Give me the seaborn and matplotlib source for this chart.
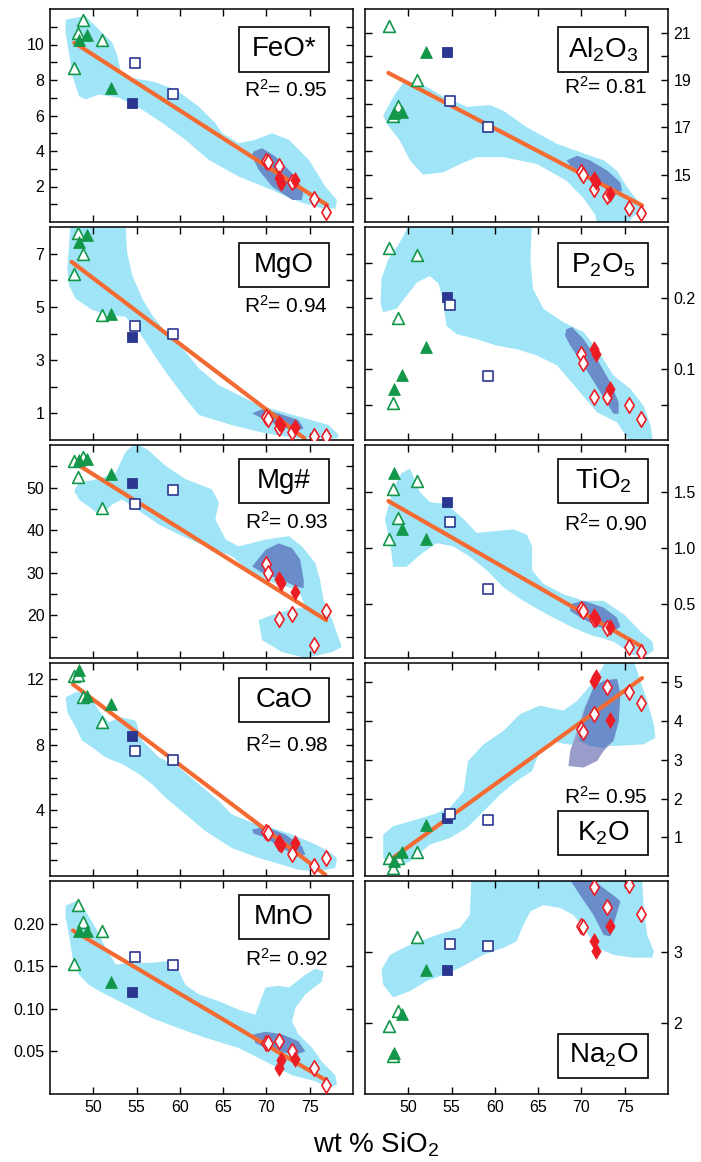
"""
Harker diagrams: major oxides vs wt % SiO2 (10 panels, 5 x 2)
"""
import matplotlib
matplotlib.use('Agg')
import matplotlib.pyplot as plt
from matplotlib.patches import Rectangle
import seaborn as sns

# ---------------------------------------------------------------- samples
# one entry per sample: SiO2 and its symbol group
sio2 = [47.8, 48.2, 48.8, 51.0, 48.3, 49.3, 52.0, 54.5, 54.8, 59.2,
        70.0, 70.2, 71.5, 72.9, 75.5, 76.9, 71.4, 71.7, 73.3]
group = (['tri_open'] * 4 + ['tri_fill'] * 3 + ['sq_fill'] + ['sq_open'] * 2
         + ['dia_open'] * 6 + ['dia_fill'] * 3)

feo = [8.7, 10.66, 11.4, 10.25, 10.25, 10.56, 7.55, 6.7, 8.96, 7.2,
       3.45, 3.4, 3.13, 2.28, 1.3, 0.55, 2.47, 2.22, 2.37]
al2o3 = [21.3, 17.5, 17.9, 19.0, 17.6, 17.65, 20.2, 20.2, 18.1, 17.0,
         15.1, 15.0, 14.4, 14.1, 13.6, 13.36, 14.8, 14.67, 14.2]
mgo = [6.25, 7.79, 7.0, 4.71, 7.44, 7.69, 4.75, 3.88, 4.28, 4.0,
       0.875, 0.8, 0.44, 0.31, 0.15, 0.15, 0.63, 0.56, 0.5]
p2o5 = [0.271, 0.052, 0.172, 0.261, 0.072, 0.091, 0.131, 0.201, 0.19, 0.09,
        0.121, 0.109, 0.06, 0.06, 0.05, 0.03, 0.128, 0.121, 0.072]
mg_num = [56.3, 52.4, 57.1, 45.1, 56.5, 56.7, 53.1, 51.0, 46.1, 49.4,
          32.1, 29.9, 19.1, 20.3, 13.1, 21.0, 28.5, 27.6, 25.4]
tio2 = [1.08, 1.53, 1.27, 1.6, 1.67, 1.17, 1.08, 1.41, 1.23, 0.636,
        0.455, 0.44, 0.37, 0.29, 0.115, 0.076, 0.394, 0.364, 0.294]
cao = [12.2, 12.25, 10.9, 9.4, 12.55, 11.0, 10.5, 8.56, 7.64, 7.1,
       2.67, 2.6, 2.0, 1.37, 0.59, 1.1, 2.08, 1.92, 2.02]
k2o = [0.46, 0.2, 0.46, 0.62, 0.38, 0.62, 1.31, 1.5, 1.6, 1.45,
       3.79, 3.72, 4.18, 4.87, 4.74, 4.48, 5.04, 5.13, 4.02]
mno = [0.152, 0.2216, 0.202, 0.191, 0.191, 0.191, 0.1316, 0.12, 0.161, 0.151,
       0.06, 0.06, 0.062, 0.05, 0.03, 0.0106, 0.03, 0.04, 0.041]
na2o = [1.96, 1.54, 2.17, 3.21, 1.58, 2.12, 2.75, 2.74, 3.11, 3.08,
        3.37, 3.35, 3.92, 3.64, 3.95, 3.53, 3.15, 3.02, 3.36]

# ------------------------------------------------- regression lines (ends)
feo_line = ([47.8, 77.0], [10.1, 0.96])
al2o3_line = ([47.7, 77.0], [19.3, 13.7])
mgo_line = ([47.5, 74.4], [6.69, 0.06])
mg_num_line = ([47.8, 76.9], [55.9, 18.9])
tio2_line = ([47.7, 77.0], [1.42, 0.12])
cao_line = ([47.65, 76.8], [11.7, 0.08])
k2o_line = ([47.7, 77.0], [0.38, 5.11])
mno_line = ([47.65, 76.8], [0.192, 0.0165])

# --------------------------------------------- compositional fields (outlines)
feo_field_x = [46.8, 49.1, 50.65, 52.2, 52.8, 53.15, 54.5, 56.8, 59.5, 62.2, 64.1, 64.9,
               66.8, 68.7, 70.65, 72.6, 74.9, 76.8, 78.15, 77.96, 76.4, 73.7, 70.65, 66.8,
               63.35, 60.65, 58.0, 55.65, 53.0, 50.65, 49.1, 48.35, 47.6, 47.2, 46.8]
feo_field_y = [11.4, 11.6, 10.85, 10.1, 9.34, 8.5, 8.1, 7.93, 7.46, 6.5, 5.57, 5.0,
               4.44, 4.63, 5.0, 4.63, 3.5, 2.0, 1.24, 0.77, 0.77, 1.15, 1.8, 2.56,
               3.5, 4.63, 5.57, 6.33, 7.0, 7.18, 6.9, 7.1, 8.2, 9.5, 10.66]
feo_core_x = [68.5, 69.5, 71.0, 72.96, 74.3, 74.1, 73.0, 70.65, 69.1, 68.35]
feo_core_y = [3.97, 4.16, 3.7, 2.75, 1.8, 1.24, 1.24, 2.0, 2.94, 3.7]

al2o3_field_x = [47.1, 48.3, 49.4, 51.0, 54.05, 56.75, 59.45, 61.0, 63.7, 67.2, 70.25, 72.6,
                 74.1, 75.3, 76.8, 77.2, 76.0, 75.3, 71.8, 71.6, 70.25, 68.3, 64.85, 61.0,
                 57.9, 56.0, 54.05, 51.7, 50.2, 49.0, 47.5]
al2o3_field_y = [17.5, 18.3, 18.87, 18.94, 18.3, 17.87, 17.94, 17.7, 17.0, 16.3, 15.9, 15.6,
                 15.17, 14.46, 13.75, 13.46, 13.25, 12.9, 12.9, 13.3, 14.0, 14.74, 15.45, 15.74,
                 15.74, 15.45, 15.1, 15.0, 15.6, 16.45, 17.16]
al2o3_core_x = [68.3, 69.5, 71.0, 73.0, 74.5, 74.7, 73.7, 71.8, 70.25, 68.7]
al2o3_core_y = [15.6, 15.8, 15.6, 15.17, 14.67, 14.3, 14.24, 14.6, 15.0, 15.4]

mgo_field_x = [47.4, 53.7, 53.9, 54.5, 55.65, 56.8, 58.35, 60.65, 62.2, 64.5, 66.8, 69.1,
               71.8, 74.5, 77.2, 78.35, 78.15, 73.7, 69.9, 66.0, 62.2, 60.65, 58.35, 56.8,
               55.3, 53.7, 51.8, 49.9, 47.96, 47.2, 47.0, 47.2]
mgo_field_y = [8.3, 8.3, 7.06, 6.19, 5.31, 4.69, 4.06, 3.31, 2.69, 2.06, 1.69, 1.31,
               1.06, 0.81, 0.56, 0.19, 0.06, 0.06, 0.25, 0.56, 0.94, 1.56, 2.56, 3.31,
               4.06, 4.63, 4.69, 4.88, 5.31, 5.81, 6.44, 7.31]
mgo_core_x = [68.35, 69.5, 71.4, 73.7, 74.3, 73.35, 71.4, 69.5]
mgo_core_y = [1.0, 1.15, 1.0, 0.75, 0.44, 0.31, 0.56, 0.81]

p2o5_field_x = [46.8, 46.9, 47.7, 49.0, 50.4, 64.3, 64.1, 64.4, 65.6, 67.9, 70.25, 71.8,
                73.7, 75.65, 77.2, 78.0, 78.35, 76.0, 74.1, 71.8, 69.5, 67.2, 64.85, 62.5,
                60.2, 57.9, 55.6, 54.4, 54.05, 53.5, 52.5, 51.0, 49.8, 48.65, 47.1]
p2o5_field_y = [0.192, 0.227, 0.255, 0.278, 0.31, 0.31, 0.255, 0.213, 0.185, 0.166, 0.152, 0.128,
                0.091, 0.072, 0.048, 0.02, -0.01, -0.01, 0.025, 0.039, 0.072, 0.105, 0.119, 0.128,
                0.133, 0.142, 0.149, 0.161, 0.194, 0.22, 0.231, 0.222, 0.203, 0.185, 0.18]
p2o5_core_x = [68.25, 68.9, 70.25, 71.8, 73.35, 74.3, 74.3, 73.7, 72.2, 70.25, 68.7, 68.1]
p2o5_core_y = [0.156, 0.159, 0.142, 0.114, 0.081, 0.053, 0.037, 0.037, 0.067, 0.105, 0.133, 0.147]

mg_num_field_x = [47.8, 48.35, 50.65, 52.6, 53.7, 54.9, 56.4, 58.35, 60.65, 63.7, 64.5, 64.1,
                  65.3, 66.8, 69.9, 72.6, 74.1, 75.65, 76.2, 76.6, 77.6, 78.7, 77.6, 74.5,
                  71.8, 69.5, 69.1, 70.65, 72.6, 74.5, 73.7, 72.2, 69.9, 68.35, 66.0, 62.96,
                  60.3, 57.6, 55.3, 53.35, 52.2, 50.85, 49.9, 48.35]
mg_num_field_y = [49.2, 51.2, 52.0, 53.5, 58.3, 60.5, 58.7, 55.1, 52.0, 49.6, 46.5, 42.5,
                  37.8, 36.2, 37.8, 38.6, 36.2, 32.3, 28.3, 23.6, 18.9, 12.6, 11.4, 10.0,
                  11.4, 14.2, 18.9, 20.1, 21.3, 22.0, 26.0, 26.8, 28.3, 29.9, 33.9, 36.2,
                  38.6, 41.3, 44.5, 47.2, 46.1, 43.3, 44.9, 47.2]
mg_num_core_x = [68.35, 69.9, 71.4, 72.96, 73.9, 74.3, 74.3, 73.35, 71.4, 69.9]
mg_num_core_y = [31.5, 35.4, 36.9, 35.8, 33.1, 28.3, 26.4, 26.8, 28.7, 29.5]

tio2_field_x = [47.3, 48.26, 49.2, 50.2, 51.35, 52.5, 54.4, 56.4, 57.9, 59.8, 62.15, 63.7,
                64.3, 64.3, 65.6, 67.9, 70.25, 72.57, 74.9, 76.8, 78.2, 78.36, 77.6, 76.0,
                73.7, 71.0, 68.7, 66.0, 63.3, 61.0, 59.07, 57.1, 55.2, 53.3, 51.35, 49.8,
                48.26, 47.9]
tio2_field_y = [1.258, 1.53, 1.667, 1.71, 1.5, 1.41, 1.394, 1.258, 1.136, 1.15, 1.167, 1.12,
                1.015, 0.803, 0.682, 0.59, 0.53, 0.53, 0.41, 0.258, 0.167, 0.09, 0.045, 0.045,
                0.167, 0.227, 0.303, 0.41, 0.53, 0.65, 0.803, 0.924, 1.015, 1.045, 0.94, 0.833,
                0.833, 1.045]
tio2_core_x = [68.7, 70.25, 72.57, 74.1, 74.5, 73.7, 71.8, 69.9, 68.7]
tio2_core_y = [0.5, 0.53, 0.47, 0.38, 0.3, 0.258, 0.303, 0.38, 0.44]

cao_field_x = [46.8, 47.96, 49.3, 50.65, 51.8, 53.15, 54.9, 55.65, 57.6, 59.9, 62.2, 64.5,
               66.0, 68.35, 70.65, 72.96, 75.3, 77.2, 78.15, 77.96, 76.0, 73.7, 71.8, 69.1,
               66.0, 62.96, 60.65, 58.35, 56.8, 55.3, 53.35, 51.4, 49.9, 48.7, 47.96, 47.0]
cao_field_y = [10.9, 11.22, 11.22, 10.1, 9.38, 9.69, 9.48, 8.26, 7.24, 6.62, 5.6, 4.58,
               3.76, 3.25, 2.94, 2.53, 2.02, 1.51, 1.1, 0.49, 0.28, 0.38, 0.69, 1.1,
               1.71, 2.74, 3.76, 4.78, 5.6, 6.21, 6.83, 7.24, 7.85, 8.26, 9.08, 10.0]
cao_core_x = [68.35, 69.9, 72.2, 74.1, 74.5, 73.5, 71.8, 69.9, 68.5]
cao_core_y = [2.84, 3.0, 2.53, 1.82, 1.3, 1.2, 1.7, 2.33, 2.6]

k2o_field_x = [47.1, 48.26, 50.2, 52.9, 54.8, 56.4, 56.9, 58.7, 61.0, 62.9, 65.2, 67.9,
               69.5, 71.8, 72.96, 76.0, 76.8, 77.6, 78.36, 78.55, 77.2, 74.1, 71.0, 68.3,
               66.4, 65.2, 64.3, 62.5, 60.6, 58.7, 56.75, 54.8, 52.5, 50.2, 48.65, 47.1]
k2o_field_y = [1.07, 1.29, 1.41, 1.59, 1.76, 2.19, 2.97, 3.4, 3.75, 4.18, 4.4, 4.27,
               4.52, 5.13, 5.6, 5.6, 5.04, 4.52, 3.92, 3.57, 3.4, 3.36, 3.36, 3.4,
               3.49, 3.23, 2.71, 2.45, 2.1, 1.67, 1.24, 0.98, 0.81, 0.38, 0.2, 0.46]
k2o_core_x = [71.4, 72.57, 74.1, 74.5, 74.3, 73.7, 72.57, 71.0, 69.7, 69.9, 70.45]
k2o_core_y = [4.87, 5.04, 5.09, 4.7, 4.0, 3.49, 3.3, 3.36, 3.49, 3.83, 4.35]
k2o_core2_x = [71.4, 72.57, 74.1, 74.5, 74.3, 73.7, 72.57, 71.8, 70.25, 68.5, 68.7, 69.5, 70.25]
k2o_core2_y = [4.87, 5.04, 5.09, 4.7, 4.0, 3.49, 3.23, 2.97, 2.8, 2.84, 3.23, 3.75, 4.27]

mno_field_x = [46.8, 48.15, 49.1, 50.27, 51.4, 52.6, 54.5, 56.8, 58.7, 59.9, 60.65, 62.2,
               64.5, 66.8, 68.7, 69.9, 71.4, 72.6, 74.5, 75.65, 76.6, 76.4, 74.5, 73.35,
               72.96, 73.7, 75.3, 76.4, 77.96, 78.15, 77.2, 75.65, 72.96, 69.9, 66.8, 62.96,
               59.9, 56.8, 54.5, 52.2, 50.65, 49.5, 48.35, 47.6, 47.2, 46.8]
mno_field_y = [0.221, 0.227, 0.215, 0.195, 0.172, 0.152, 0.154, 0.154, 0.156, 0.144, 0.128, 0.117,
               0.109, 0.099, 0.093, 0.125, 0.127, 0.125, 0.14, 0.147, 0.144, 0.132, 0.117, 0.101,
               0.085, 0.07, 0.054, 0.038, 0.022, 0.011, 0.007, 0.015, 0.022, 0.038, 0.054, 0.066,
               0.077, 0.089, 0.101, 0.113, 0.121, 0.128, 0.14, 0.16, 0.187, 0.207]
mno_core_x = [68.5, 69.9, 71.8, 73.7, 74.5, 73.35, 71.4, 69.9, 68.7]
mno_core_y = [0.07, 0.073, 0.07, 0.062, 0.05, 0.046, 0.05, 0.054, 0.06]

na2o_field_x = [46.9, 47.9, 49.8, 53.3, 55.98, 57.1, 57.3, 77.0, 77.2, 77.6, 78.36, 78.2,
                76.0, 73.7, 71.8, 70.25, 69.1, 67.55, 65.6, 64.1, 63.3, 62.5, 61.0, 58.7,
                55.98, 54.05, 52.1, 50.2, 48.26, 47.1]
na2o_field_y = [2.75, 2.96, 3.08, 3.24, 3.34, 3.52, 4.05, 4.05, 3.62, 3.24, 3.01, 2.92,
                2.92, 2.96, 3.06, 3.34, 3.52, 3.62, 3.66, 3.57, 3.38, 3.15, 3.06, 2.96,
                2.78, 2.68, 2.59, 2.45, 2.36, 2.54]
na2o_core_x = [68.5, 71.0, 72.57, 74.1, 74.5, 73.7, 73.35, 72.57, 71.4, 69.9]
na2o_core_y = [4.05, 4.05, 3.9, 3.76, 3.71, 3.38, 3.22, 3.24, 3.52, 3.79]

# ------------------------------------------------------------------ styles
GREEN = '#13974a'
NAVY = '#2b3690'
RED = '#ec1c24'
ORANGE = '#f36b32'
FIELD = '#9fe5f7'
CORE = '#6a8dca'
CORE2 = '#9a9dcc'

MARKERS = {
    'tri_open': dict(marker='^', s=72, color='white', edgecolor=GREEN, linewidth=1.2),
    'tri_fill': dict(marker='^', s=72, color=GREEN, edgecolor=GREEN, linewidth=0.6),
    'sq_open': dict(marker='s', s=58, color='white', edgecolor=NAVY, linewidth=1.2),
    'sq_fill': dict(marker='s', s=58, color=NAVY, edgecolor=NAVY, linewidth=0.6),
    'dia_open': dict(marker='d', s=62, color='white', edgecolor=RED, linewidth=1.2),
    'dia_fill': dict(marker='d', s=62, color=RED, edgecolor=RED, linewidth=0.6),
}

sns.set_theme(style='ticks')
plt.rcParams['font.family'] = ['Liberation Sans', 'DejaVu Sans']
plt.rcParams['mathtext.fontset'] = 'custom'
plt.rcParams['mathtext.rm'] = 'Liberation Sans'
plt.rcParams['mathtext.it'] = 'Liberation Sans:italic'
plt.rcParams['mathtext.default'] = 'regular'
plt.rcParams['text.color'] = 'black'
plt.rcParams['axes.edgecolor'] = 'black'
plt.rcParams['xtick.color'] = 'black'
plt.rcParams['ytick.color'] = 'black'

panels = [
    dict(label='FeO*', y=feo, ylim=(0, 12), major=[2, 4, 6, 8, 10],
         minor=[1, 3, 5, 7, 9, 11], fmt='{:g}', r2='0.95', line=feo_line,
         field=(feo_field_x, feo_field_y), core=(feo_core_x, feo_core_y),
         box_y=0.81, r2_y=0.62),
    dict(label='Al$_2$O$_3$', y=al2o3, ylim=(13, 22), major=[15, 17, 19, 21],
         minor=[14, 16, 18, 20], fmt='{:g}', r2='0.81', line=al2o3_line,
         field=(al2o3_field_x, al2o3_field_y), core=(al2o3_core_x, al2o3_core_y),
         box_y=0.81, r2_y=0.635),
    dict(label='MgO', y=mgo, ylim=(0, 8), major=[1, 3, 5, 7], minor=[2, 4, 6],
         fmt='{:g}', r2='0.94', line=mgo_line,
         field=(mgo_field_x, mgo_field_y), core=(mgo_core_x, mgo_core_y),
         box_y=0.82, r2_y=0.63),
    dict(label='P$_2$O$_5$', y=p2o5, ylim=(0, 0.3), major=[0.1, 0.2],
         minor=[0.05, 0.15, 0.25], fmt='{:.1f}', r2=None, line=None,
         field=(p2o5_field_x, p2o5_field_y), core=(p2o5_core_x, p2o5_core_y),
         box_y=0.82, r2_y=None),
    dict(label='Mg#', y=mg_num, ylim=(10, 60), major=[20, 30, 40, 50],
         minor=[15, 25, 35, 45, 55], fmt='{:g}', r2='0.93', line=mg_num_line,
         field=(mg_num_field_x, mg_num_field_y), core=(mg_num_core_x, mg_num_core_y),
         box_y=0.83, r2_y=0.64),
    dict(label='TiO$_2$', y=tio2, ylim=(0.02, 1.92), major=[0.5, 1.0, 1.5],
         minor=[], fmt='{:.1f}', r2='0.90', line=tio2_line,
         field=(tio2_field_x, tio2_field_y), core=(tio2_core_x, tio2_core_y),
         box_y=0.83, r2_y=0.63),
    dict(label='CaO', y=cao, ylim=(0, 13), major=[4, 8, 12],
         minor=[1, 2, 3, 5, 6, 7, 9, 10, 11], fmt='{:g}', r2='0.98', line=cao_line,
         field=(cao_field_x, cao_field_y), core=(cao_core_x, cao_core_y),
         box_y=0.825, r2_y=0.615),
    dict(label='K$_2$O', y=k2o, ylim=(0, 5.5), major=[1, 2, 3, 4, 5], minor=[],
         fmt='{:g}', r2='0.95', line=k2o_line,
         field=(k2o_field_x, k2o_field_y), core=(k2o_core_x, k2o_core_y),
         core2=(k2o_core2_x, k2o_core2_y), box_y=0.20, r2_y=0.37),
    dict(label='MnO', y=mno, ylim=(0, 0.25), major=[0.05, 0.10, 0.15, 0.20],
         minor=[], fmt='{:.2f}', r2='0.92', line=mno_line,
         field=(mno_field_x, mno_field_y), core=(mno_core_x, mno_core_y),
         box_y=0.83, r2_y=0.635),
    dict(label='Na$_2$O', y=na2o, ylim=(1, 4), major=[2, 3], minor=[],
         fmt='{:g}', r2=None, line=None,
         field=(na2o_field_x, na2o_field_y), core=(na2o_core_x, na2o_core_y),
         box_y=0.18, r2_y=None),
]

W, H = 701, 1162
fig = plt.figure(figsize=(W / 100, H / 100), dpi=100)

for i, p in enumerate(panels):
    row, col = divmod(i, 2)
    left = 50 if col == 0 else 365
    top = 9 + 218 * row
    ax = fig.add_axes([left / W, 1 - (top + 213) / H, 303 / W, 213 / H])

    # fields
    ax.fill(p['field'][0], p['field'][1], color=FIELD, lw=0, zorder=0.5)
    if 'core2' in p:
        ax.fill(p['core2'][0], p['core2'][1], color=CORE2, lw=0, zorder=0.6)
    ax.fill(p['core'][0], p['core'][1], color=CORE, lw=0, zorder=0.7)

    # regression line
    if p['line'] is not None:
        sns.lineplot(x=p['line'][0], y=p['line'][1], color=ORANGE, linewidth=3.0,
                     ax=ax, zorder=2)

    # samples
    for g in ['tri_open', 'tri_fill', 'sq_fill', 'sq_open', 'dia_open', 'dia_fill']:
        xs = [x for x, k in zip(sio2, group) if k == g]
        ys = [y for y, k in zip(p['y'], group) if k == g]
        sns.scatterplot(x=xs, y=ys, ax=ax, zorder=3, clip_on=True, **MARKERS[g])

    ax.set_xlim(45, 80)
    ax.set_ylim(*p['ylim'])
    ax.set_xticks([50, 55, 60, 65, 70, 75])
    ax.set_yticks(p['major'])
    ax.set_yticklabels([p['fmt'].format(v) for v in p['major']])
    ax.set_yticks(p['minor'], minor=True)
    ax.tick_params(which='both', direction='in', length=5, width=1.0, color='black',
                   top=True, bottom=True, left=True, right=True,
                   labelsize=11.5, labelcolor='black', pad=4,
                   labelbottom=(row == 4), labelleft=(col == 0), labelright=(col == 1))
    for sp in ax.spines.values():
        sp.set_linewidth(1.1)
        sp.set_color('black')
    ax.set_xlabel('')
    ax.set_ylabel('')

    # label box and R2
    bx = 0.772 if col == 0 else 0.787
    ax.add_patch(Rectangle((bx - 0.1485, p['box_y'] - 0.1035), 0.297, 0.207,
                           transform=ax.transAxes, facecolor='white',
                           edgecolor='black', linewidth=1.2, zorder=5))
    ax.text(bx, p['box_y'], p['label'], transform=ax.transAxes, ha='center',
            va='center', fontsize=20, zorder=6)
    if p['r2'] is not None:
        ax.text(bx + 0.008, p['r2_y'], 'R$^2$= ' + p['r2'], transform=ax.transAxes,
                ha='center', va='center', fontsize=15, zorder=6)

fig.text(0.537, 0.008, 'wt % SiO$_2$', ha='center', va='baseline', fontsize=20)

fig.savefig('out.png', dpi=100)
